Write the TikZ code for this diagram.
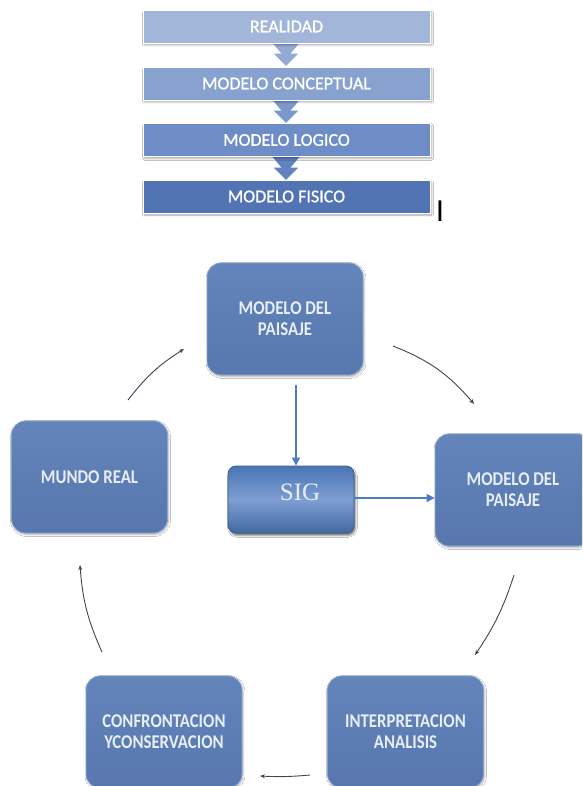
\documentclass[tikz,border=0pt]{standalone}
\usepackage{fontspec}
\setmainfont{Carlito}
\newfontfamily\stackfont{Carlito}[FakeBold=0.9]
\newfontfamily\boxfont{Carlito}[FakeStretch=0.86]
\newfontfamily\sigfont{Liberation Serif}
\newfontfamily\barfont{Liberation Sans}
\usetikzlibrary{arrows.meta,shadows.blur}

\definecolor{stackA}{HTML}{A2B6DA}
\definecolor{stackB}{HTML}{88A2D0}
\definecolor{stackC}{HTML}{6E8DC6}
\definecolor{stackD}{HTML}{5274B5}
\definecolor{chevA}{HTML}{94AAD4}
\definecolor{chevB}{HTML}{7B97CC}
\definecolor{chevC}{HTML}{6283C0}
\definecolor{boxtop}{HTML}{6385BB}
\definecolor{boxbot}{HTML}{5777AD}
\definecolor{boxedge}{HTML}{8CA5CF}
\definecolor{boxtext}{HTML}{E8EEF7}
\definecolor{sigtop}{HTML}{4A74B4}
\definecolor{sigmid}{HTML}{7E9ED3}
\definecolor{sigedge}{HTML}{3A5E96}
\definecolor{bluearrow}{HTML}{4C7DBF}
\definecolor{grayarrow}{HTML}{3B4656}

\tikzset{
  stackbox/.style={rectangle, minimum width=287, minimum height=33, inner sep=0,
    draw=white, line width=0.8, text=white,
    font=\stackfont\fontsize{18}{20}\selectfont,
    blur shadow={shadow xshift=1.5pt, shadow yshift=-2pt, shadow opacity=35, shadow blur steps=4}},
  downchev/.pic={
    \path[pic actions] (-16,2) -- (16,2) -- (6,-10) -- (14,-10) -- (0,-24)
      -- (-14,-10) -- (-6,-10) -- cycle;
  },
  flowbox/.style={rectangle, rounded corners=14, minimum width=156, minimum height=112,
    inner sep=2, align=center, text=boxtext,
    font=\boxfont\bfseries\fontsize{19.5}{21}\selectfont,
    top color=boxtop, bottom color=boxbot, draw=boxedge, line width=0.8,
    blur shadow={shadow xshift=1pt, shadow yshift=-1.5pt, shadow opacity=30, shadow blur steps=5}},
  sigbox/.style={rectangle, rounded corners=8, minimum width=126, minimum height=67,
    inner sep=0, draw=sigedge, line width=0.8,
    shading=axis, top color=sigtop, bottom color=sigtop!90!black, middle color=sigmid,
    blur shadow={shadow xshift=1.5pt, shadow yshift=-2.5pt, shadow opacity=55, shadow blur steps=3}},
  sigtext/.style={text=boxtext, font=\sigfont\fontsize{25}{25}\selectfont, inner sep=0},
  cyclearrow/.style={draw=grayarrow, line width=0.9, -{Stealth[length=5pt, width=4pt]}},
  blueline/.style={draw=bluearrow, line width=1.4, -{Triangle[length=8pt, width=8pt]}}
}

\begin{document}
\begin{tikzpicture}[x=1pt, y=1pt]
\useasboundingbox (0,0) rectangle (582,-786);
\clip (0,0) rectangle (582,-786);
\fill[white] (0,0) rectangle (582,-786);

% ---- layered model stack ----
\pic[fill=chevA, draw=white, line width=1.2] at (286,-43) {downchev};
\pic[fill=chevB, draw=white, line width=1.2] at (286,-100) {downchev};
\pic[fill=chevC, draw=white, line width=1.2] at (286,-157) {downchev};

\node[stackbox, fill=stackA] (realidad)    at (286.5,-26.5) {REALIDAD};
\node[stackbox, fill=stackB] (conceptual)  at (286.5,-83.5) {MODELO CONCEPTUAL};
\node[stackbox, fill=stackC] (logico)      at (286.5,-140)  {MODELO LOGICO};
\node[stackbox, fill=stackD] (fisico)      at (286.5,-196.5) {MODELO FISICO};

\node[font=\barfont\fontsize{30}{30}\selectfont, anchor=base, inner sep=0] (bar) at (440,-222) {I};

% ---- landscape model cycle ----
\node[flowbox] (paisajeA) at (285,-319)   {MODELO DEL\\PAISAJE};
\node[flowbox] (mundo)    at (89.5,-477)  {MUNDO REAL};
\node[flowbox] (paisajeB) at (513,-490)   {MODELO DEL\\PAISAJE};
\node[flowbox] (interp)   at (405.5,-732) {INTERPRETACION\\ANALISIS};
\node[flowbox] (confr)    at (164,-732)   {CONFRONTACION\\YCONSERVACION};
\node[sigbox]  (sig)      at (291,-499.5) {};
\node[sigtext] (sigl)     at ([xshift=9, yshift=7]sig.center) {SIG};

% free ends of the cycle arrows
\coordinate (m1) at (128,-400);
\coordinate (m2) at (184,-349);
\coordinate (p1) at (393,-346);
\coordinate (p2) at (474,-404);
\coordinate (q1) at (514,-575);
\coordinate (q2) at (475,-655);
\coordinate (i1) at (310,-775);
\coordinate (i2) at (260,-776);
\coordinate (c1) at (102,-652);
\coordinate (c2) at (80,-565);
\coordinate (drop) at (296,-385);

\draw[cyclearrow] (m1) to[bend left=10] (m2);
\draw[cyclearrow] (p1) to[bend left=14] (p2);
\draw[cyclearrow] (q1) to[bend left=8] (q2);
\draw[cyclearrow] (i1) to[bend left=4] (i2);
\draw[cyclearrow] (c1) to[bend left=10] (c2);

% SIG links
\draw[blueline] (drop) -- (drop |- sig.north);
\draw[blueline] (sig.east |- 0,-498) -- (paisajeB.west |- 0,-498);
\end{tikzpicture}
\end{document}
